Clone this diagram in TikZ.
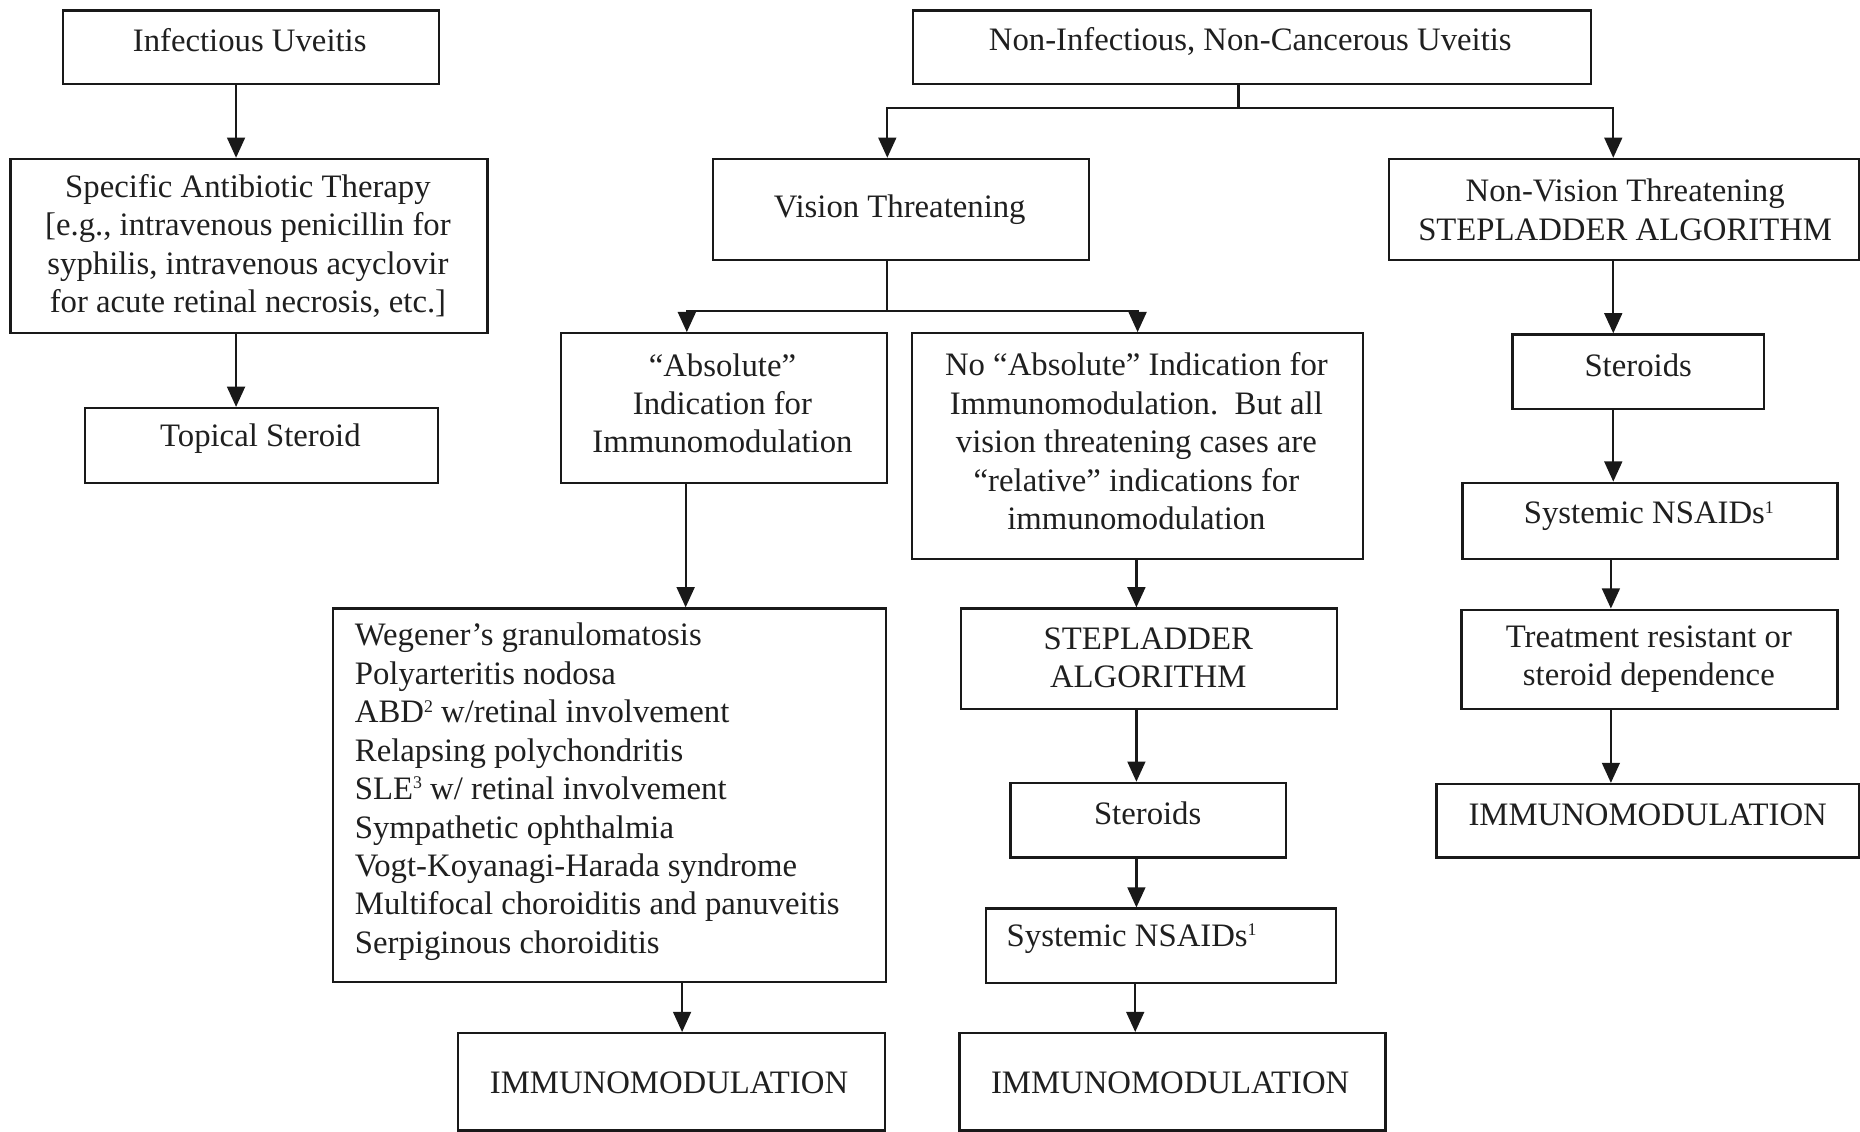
\documentclass[tikz,border=0pt]{standalone}
\usepackage{fontspec}
\setmainfont{Liberation Serif}
\usetikzlibrary{arrows.meta}
\newcommand\fs{\fontsize{27.6}{32.4}\selectfont}
\newcommand\sups[1]{\raisebox{9pt}{\fontsize{15}{15}\selectfont #1}}
\newcommand\boxat[5]{\node[boxst, minimum width={(#4)-(#2)}, minimum height={(#5)-(#3)}, anchor=north west] (#1) at (#2,#3) {};}
\tikzset{
  boxst/.style={draw=black!90, line width=1.9pt, inner sep=0pt, rectangle},
  txt/.style={align=center, inner sep=0pt, font=\fs, text=black!88},
  ltxt/.style={align=left, inner sep=0pt, font=\fs, text=black!88, anchor=west},
  conn/.style={draw=black!90, line width=1.9pt},
  arr/.style={conn, -{Triangle[length=17pt,width=15pt]}}
}
\begin{document}
\begin{tikzpicture}[x=1pt,y=-1pt]
\useasboundingbox (0,0) rectangle (1568,954);
\fill[white] (0,0) rectangle (1568,954);
% boxes
\boxat{iu}{52}{8}{369}{70}
\boxat{sat}{8}{133}{410}{280}
\boxat{ts}{71}{343}{368}{406}
\boxat{ni}{769}{8}{1340}{70}
\boxat{vt}{600}{133}{917}{218}
\boxat{nvt}{1170}{133}{1566}{218}
\boxat{abs}{472}{280}{747}{406}
\boxat{noabs}{768}{280}{1148}{470}
\boxat{list}{280}{512}{746}{827}
\boxat{imL}{385}{870}{745}{952}
\boxat{step}{809}{512}{1126}{597}
\boxat{stM}{851}{659}{1083}{722}
\boxat{nsM}{830}{765}{1125}{828}
\boxat{imM}{808}{870}{1167}{952}
\boxat{stR}{1274}{281}{1486}{344}
\boxat{nsR}{1232}{406}{1548}{470}
\boxat{tr}{1231}{513}{1548}{597}
\boxat{imR}{1210}{660}{1566}{722}
% texts
\node[txt] (iu-t) at (210.5,34) {Infectious Uveitis};
\node[txt] (sat-t) at (209,207.5) {Specific Antibiotic Therapy\\{[}e.g., intravenous penicillin for\\syphilis, intravenous acyclovir\\for acute retinal necrosis, etc.{]}};
\node[txt] (ts-t) at (219.5,370) {Topical Steroid};
\node[txt] (ni-t) at (1054,35) {Non-Infectious, Non-Cancerous Uveitis};
\node[txt] (vt-t) at (758.5,177) {Vision Threatening};
\node[txt] (nvt-t) at (1370,177) {Non-Vision Threatening\\STEPLADDER ALGORITHM};
\node[txt] (abs-t) at (609,340) {“Absolute”\\Indication for\\Immunomodulation};
\node[txt] (noabs-t) at (958,372) {No “Absolute” Indication for\\Immunomodulation.\ \ But all\\vision threatening cases are\\“relative” indications for\\immunomodulation};
\node[ltxt] (list-t) at (299,667.5) {Wegener’s granulomatosis\\Polyarteritis nodosa\\ABD\sups{2} w/retinal involvement\\Relapsing polychondritis\\SLE\sups{3} w/ retinal involvement\\Sympathetic ophthalmia\\Vogt-Koyanagi-Harada syndrome\\Multifocal choroiditis and panuveitis\\Serpiginous choroiditis};
\node[txt] (imL-t) at (564,913) {IMMUNOMODULATION};
\node[txt] (step-t) at (968,554.5) {STEPLADDER\\ALGORITHM};
\node[txt] (stM-t) at (967.5,686) {Steroids};
\node[txt] (nsM-t) at (954,791) {Systemic NSAIDs\sups{1}};
\node[txt] (imM-t) at (986.5,913) {IMMUNOMODULATION};
\node[txt] (stR-t) at (1381,308) {Steroids};
\node[txt] (nsR-t) at (1390,435) {Systemic NSAIDs\sups{1}};
\node[txt] (tr-t) at (1390,555.5) {Treatment resistant or\\steroid dependence};
\node[txt] (imR-t) at (1389,687) {IMMUNOMODULATION};
% connector x positions
\coordinate (xa) at (199,0);
\coordinate (j1) at (1044,91);
\coordinate (xvt) at (748,0);
\coordinate (xnvt) at (1360,0);
\coordinate (j2) at (748,262);
\coordinate (xabs) at (579,0);
\coordinate (xno) at (959,0);
\coordinate (xl1) at (578,0);
\coordinate (xl2) at (575,0);
\coordinate (xm) at (958,0);
\coordinate (xm2) at (957,0);
\coordinate (xr) at (1360,0);
\coordinate (xr2) at (1358,0);
% connectors
\draw[arr] (iu.south -| xa) -- (sat.north -| xa);
\draw[arr] (sat.south -| xa) -- (ts.north -| xa);
\draw[conn] (ni.south -| j1) -- (j1);
\draw[arr] (j1) -| (vt.north -| xvt);
\draw[arr] (j1) -| (nvt.north -| xnvt);
\draw[conn] (vt.south -| j2) -- (j2);
\draw[arr] (j2) -| (abs.north -| xabs);
\draw[arr] (j2) -| (noabs.north -| xno);
\draw[arr] (abs.south -| xl1) -- (list.north -| xl1);
\draw[arr] (list.south -| xl2) -- (imL.north -| xl2);
\draw[arr] (noabs.south -| xm) -- (step.north -| xm);
\draw[arr] (step.south -| xm) -- (stM.north -| xm);
\draw[arr] (stM.south -| xm) -- (nsM.north -| xm);
\draw[arr] (nsM.south -| xm2) -- (imM.north -| xm2);
\draw[arr] (nvt.south -| xr) -- (stR.north -| xr);
\draw[arr] (stR.south -| xr) -- (nsR.north -| xr);
\draw[arr] (nsR.south -| xr2) -- (tr.north -| xr2);
\draw[arr] (tr.south -| xr2) -- (imR.north -| xr2);
\end{tikzpicture}
\end{document}
